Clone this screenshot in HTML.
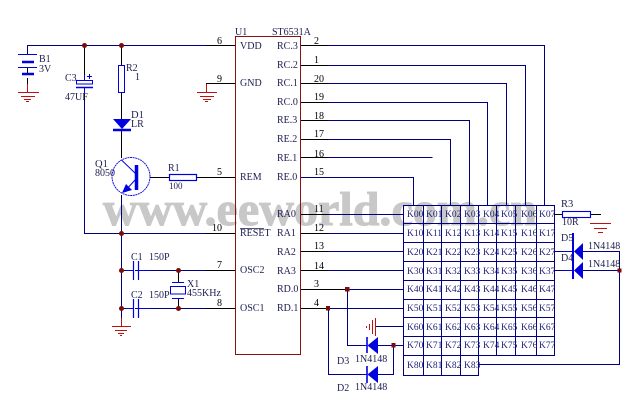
<!DOCTYPE html>
<html><head><meta charset="utf-8"><style>
html,body{margin:0;padding:0;background:#fff}
svg{display:block}
text{font-family:"Liberation Serif",serif;font-size:10px;fill:#1c1c50}
.n{fill:#000;font-size:10px}
.k{font-size:9.5px;fill:#23237a}
</style></head><body>
<svg width="640" height="416" viewBox="0 0 640 416" xmlns="http://www.w3.org/2000/svg">
<rect width="640" height="416" fill="#fff"/>
<text x="103" y="225" textLength="434" lengthAdjust="spacingAndGlyphs" style="font-size:48px;font-weight:bold;fill:#c8c8c8;stroke:#c8c8c8;stroke-width:1">www.eeworld.com.cn</text>

<!-- navy wires -->
<g fill="none" stroke="#000080" stroke-width="1">
<path d="M27.5 54V45.5H206"/>
<path d="M84.5 101V233.5H206"/>
<path d="M121.5 196V318"/>
<path d="M328 45.5H544.5V205"/>
<path d="M328 65.5H525.5V205"/>
<path d="M328 83.5H506.5V205"/>
<path d="M328 102.5H487.5V205"/>
<path d="M328 120.5H469.5V205"/>
<path d="M328 139.5H450.5V205"/>
<path d="M328 157.5H432.5"/>
<path d="M300 177.5H413.5V205"/>
<path d="M328 214.5H403M328 233.5H403M328 251.5H403M328 270.5H403M328 289.5H403M328 308.5H403"/>
<path d="M376 326.5H403M393.5 345.5H403"/>
<path d="M347.5 289.5V345.5H366M328.5 308.5V374.5H366M377 345.5H393.5V374.5H377"/>
<path d="M478.5 364.5H619.5V251.5H583"/>
<path d="M583 270.5H619.5"/>
<path d="M554 251.5H573M554 270.5H573"/>
<path d="M403.5 205.5H554.5V355.5H403.5ZM403.5 355V375.5H478.5V355"/>
<path d="M403 223.5H554M403 242.5H554M403 261.5H554M403 280.5H554M403 299.5H554M403 317.5H554M403 336.5H554"/>
<path d="M423.5 205V375M441.5 205V375M460.5 205V375M478.5 205V355M496.5 205V355M515.5 205V355M536.5 205V355"/>
<path d="M135 270.5H206M135 308.5H206M121 270.5H133M121 308.5H133"/>
</g>

<!-- black wires -->
<g fill="none" stroke="#000" stroke-width="1">
<path d="M206 45.5H235M206 83.5H235M206 177.5H235M206 233.5H235M206 270.5H235M206 308.5H235"/>
<path d="M300 45.5H328M300 65.5H328M300 83.5H328M300 102.5H328M300 120.5H328M300 139.5H328M300 157.5H328"/>
<path d="M300 214.5H328M300 233.5H328M300 251.5H328M300 270.5H328M300 289.5H347M300 308.5H328"/>
<path d="M84.5 45V75M84.5 92V101M121.5 45V65M121.5 92V119M121.5 130V158M121.5 195V198"/>
<path d="M150 177.5H169M197 177.5H206"/>
<path d="M27.5 67V74M27.5 78V84"/>
<path d="M178.5 270V282M178.5 298V308"/>
<path d="M554 214.5H562M590 214.5H601"/>
</g>

<!-- IC -->
<rect x="235.5" y="36.5" width="65" height="318" fill="none" stroke="#8b1010" stroke-width="1"/>

<!-- red grounds -->
<g fill="none" stroke="#c01010" stroke-width="1">
<path d="M27.5 84V92.5M18 92.5H39M21 96.5H35M24 99.5H31M26 101.5H29"/>
<path d="M206.5 84V92.5M197 92.5H217M200 96.5H214M203 99.5H211M205 101.5H208"/>
<path d="M121.5 318V326.5M112 326.5H131M115 330.5H127M118 333.5H124M120 335.5H122"/>
<path d="M590 223.5H611M594 228.5H607M598 232.5H603"/>
<path d="M375.5 318V336M372.5 320V334M369.5 324V330M366.5 326V328"/>
</g>

<!-- blue components -->
<g fill="none" stroke="#0000e0" stroke-width="1">
<path d="M18 54.5H37M18 67.5H37"/>
<path d="M22 62H34M22 74H34" stroke-width="2.5"/>
<rect x="76.5" y="80.5" width="16" height="3.5"/>
<path d="M76 87.5H93" stroke-width="1.5"/>
<path d="M89.5 74V79M87 76.5H92M84.5 75V80M84.5 88V94"/>
<rect x="118.5" y="65.5" width="6" height="27"/>
<path d="M113 130H131" stroke-width="2.5"/>
<circle cx="131" cy="176.5" r="19" stroke-width=".9" stroke-dasharray="2 .6"/>
<path d="M136.5 165V190" stroke-width="3.5"/>
<path d="M121.5 160L136 174M136 179L124 192"/>
<rect x="169.5" y="174.5" width="27" height="6" stroke-width="1.2"/>
<path d="M133.5 261V280M138.5 261V280M133.5 299V318M138.5 299V318" stroke-width="1.2"/>
<path d="M126 270.5H133M139 270.5H150M126 308.5H133M139 308.5H150"/>
<path d="M172 282.5H184M172 298.5H184"/>
<rect x="170.5" y="286.5" width="15" height="7.5"/>
<rect x="562.5" y="211.5" width="28" height="6" stroke-width="1.1"/>
<path d="M573 233V279" stroke-width="2"/>
<path d="M367 337V353M367 366V383" stroke-width="1.6"/>
<path d="M362 345.5H367M362 374.5H367"/>
<path d="M563 251.5H573M563 270.5H573"/>
</g>
<g fill="#0000e0" stroke="none">
<path d="M113 119H131L122 129Z"/>
<path d="M122 193L126 184L132 190Z"/>
<path d="M367.5 345.5L378 337V354Z"/>
<path d="M367.5 374.5L378 366V383Z"/>
<path d="M574 251.5L583 243V260Z"/>
<path d="M574 270.5L583 262V279Z"/>
</g>

<!-- junctions -->
<g fill="#7a0c0c">
<circle cx="84.5" cy="45.5" r="2.5"/><circle cx="121.5" cy="45.5" r="2.5"/>
<circle cx="121.5" cy="233.5" r="2.5"/><circle cx="121.5" cy="270.5" r="2.5"/><circle cx="121.5" cy="308.5" r="2.5"/>
<circle cx="178.5" cy="270.5" r="2.5"/><circle cx="178.5" cy="308.5" r="2.5"/>
<rect x="345" y="287" width="4.5" height="4.5"/>
<rect x="326" y="306" width="4" height="4.5"/>
<rect x="391.5" y="343" width="4" height="4.5"/>
<rect x="617.5" y="268.5" width="4" height="4"/>
</g>

<!-- left labels -->
<text x="39" y="62">B1</text><text x="39" y="72">3V</text>
<text x="65" y="81">C3</text><text x="65" y="100">47UF</text>
<text x="126" y="71">R2</text><text x="135" y="80">1</text>
<text x="131" y="118" style="font-size:10.5px">D1</text><text x="131" y="127">LR</text>
<text x="95" y="167" style="font-size:10.5px">Q1</text><text x="95" y="176">8050</text>
<text x="168" y="171">R1</text><text x="169" y="189" style="font-size:9px">100</text>
<text x="131" y="260">C1</text><text x="149" y="260">150P</text>
<text x="131" y="298">C2</text><text x="149" y="298">150P</text>
<text x="187" y="287">X1</text><text x="187" y="296">455KHz</text>

<!-- IC labels -->
<text x="235" y="35">U1</text><text x="272" y="35">ST6531A</text>
<text x="240" y="49">VDD</text><text x="240" y="86">GND</text><text x="240" y="180">REM</text>
<text x="240" y="236">RESET</text><path d="M240 228.5H264" stroke="#1c1c50" stroke-width=".7"/>
<text x="240" y="273">OSC2</text><text x="240" y="311">OSC1</text>
<text x="277" y="49">RC.3</text><text x="277" y="68">RC.2</text><text x="277" y="86">RC.1</text><text x="277" y="105">RC.0</text>
<text x="277" y="123">RE.3</text><text x="277" y="142">RE.2</text><text x="277" y="161">RE.1</text><text x="277" y="180">RE.0</text>
<text x="277" y="217">RA0</text><text x="277" y="236">RA1</text><text x="277" y="255">RA2</text><text x="277" y="274">RA3</text>
<text x="277" y="292">RD.0</text><text x="277" y="311">RD.1</text>

<!-- pin numbers -->
<g>
<text class="n" x="314" y="44">2</text><text class="n" x="314" y="63">1</text><text class="n" x="314" y="82">20</text><text class="n" x="314" y="100">19</text>
<text class="n" x="314" y="119">18</text><text class="n" x="314" y="137">17</text><text class="n" x="314" y="157">16</text><text class="n" x="314" y="175">15</text>
<text class="n" x="314" y="212">11</text><text class="n" x="314" y="231">12</text><text class="n" x="314" y="249">13</text><text class="n" x="314" y="269">14</text>
<text class="n" x="314" y="287">3</text><text class="n" x="314" y="306">4</text>
<text class="n" x="217" y="44">6</text><text class="n" x="217" y="82">9</text><text class="n" x="217" y="175">5</text><text class="n" x="212" y="231">10</text><text class="n" x="217" y="268">7</text><text class="n" x="217" y="306">8</text>
</g>

<!-- matrix keys -->
<g class="keys">
<text class="k" x="407" y="217">K00</text><text class="k" x="426" y="217">K01</text><text class="k" x="445" y="217">K02</text><text class="k" x="464" y="217">K03</text><text class="k" x="483" y="217">K04</text><text class="k" x="501" y="217">K05</text><text class="k" x="521" y="217">K06</text><text class="k" x="539" y="217">K07</text>
<text class="k" x="407" y="236">K10</text><text class="k" x="426" y="236">K11</text><text class="k" x="445" y="236">K12</text><text class="k" x="464" y="236">K13</text><text class="k" x="483" y="236">K14</text><text class="k" x="501" y="236">K15</text><text class="k" x="521" y="236">K16</text><text class="k" x="539" y="236">K17</text>
<text class="k" x="407" y="255">K20</text><text class="k" x="426" y="255">K21</text><text class="k" x="445" y="255">K22</text><text class="k" x="464" y="255">K23</text><text class="k" x="483" y="255">K24</text><text class="k" x="501" y="255">K25</text><text class="k" x="521" y="255">K26</text><text class="k" x="539" y="255">K27</text>
<text class="k" x="407" y="274">K30</text><text class="k" x="426" y="274">K31</text><text class="k" x="445" y="274">K32</text><text class="k" x="464" y="274">K33</text><text class="k" x="483" y="274">K34</text><text class="k" x="501" y="274">K35</text><text class="k" x="521" y="274">K36</text><text class="k" x="539" y="274">K37</text>
<text class="k" x="407" y="292">K40</text><text class="k" x="426" y="292">K41</text><text class="k" x="445" y="292">K42</text><text class="k" x="464" y="292">K43</text><text class="k" x="483" y="292">K44</text><text class="k" x="501" y="292">K45</text><text class="k" x="521" y="292">K46</text><text class="k" x="539" y="292">K47</text>
<text class="k" x="407" y="311">K50</text><text class="k" x="426" y="311">K51</text><text class="k" x="445" y="311">K52</text><text class="k" x="464" y="311">K53</text><text class="k" x="483" y="311">K54</text><text class="k" x="501" y="311">K55</text><text class="k" x="521" y="311">K56</text><text class="k" x="539" y="311">K57</text>
<text class="k" x="407" y="330">K60</text><text class="k" x="426" y="330">K61</text><text class="k" x="445" y="330">K62</text><text class="k" x="464" y="330">K63</text><text class="k" x="483" y="330">K64</text><text class="k" x="501" y="330">K65</text><text class="k" x="521" y="330">K66</text><text class="k" x="539" y="330">K67</text>
<text class="k" x="407" y="348">K70</text><text class="k" x="426" y="348">K71</text><text class="k" x="445" y="348">K72</text><text class="k" x="464" y="348">K73</text><text class="k" x="483" y="348">K74</text><text class="k" x="501" y="348">K75</text><text class="k" x="521" y="348">K76</text><text class="k" x="539" y="348">K77</text>
<text class="k" x="407" y="368">K80</text><text class="k" x="426" y="368">K81</text><text class="k" x="445" y="368">K82</text><text class="k" x="464" y="368">K83</text>
</g>

<!-- right labels -->
<text x="561" y="207" style="font-size:10.5px">R3</text><text x="562" y="225">10R</text>
<text x="561" y="241">D5</text><text x="561" y="261">D4</text>
<text x="588" y="249">1N4148</text><text x="588" y="267">1N4148</text>
<text x="337" y="364">D3</text><text x="337" y="391">D2</text>
<text x="355" y="362">1N4148</text><text x="355" y="390">1N4148</text>
</svg>
</body></html>
